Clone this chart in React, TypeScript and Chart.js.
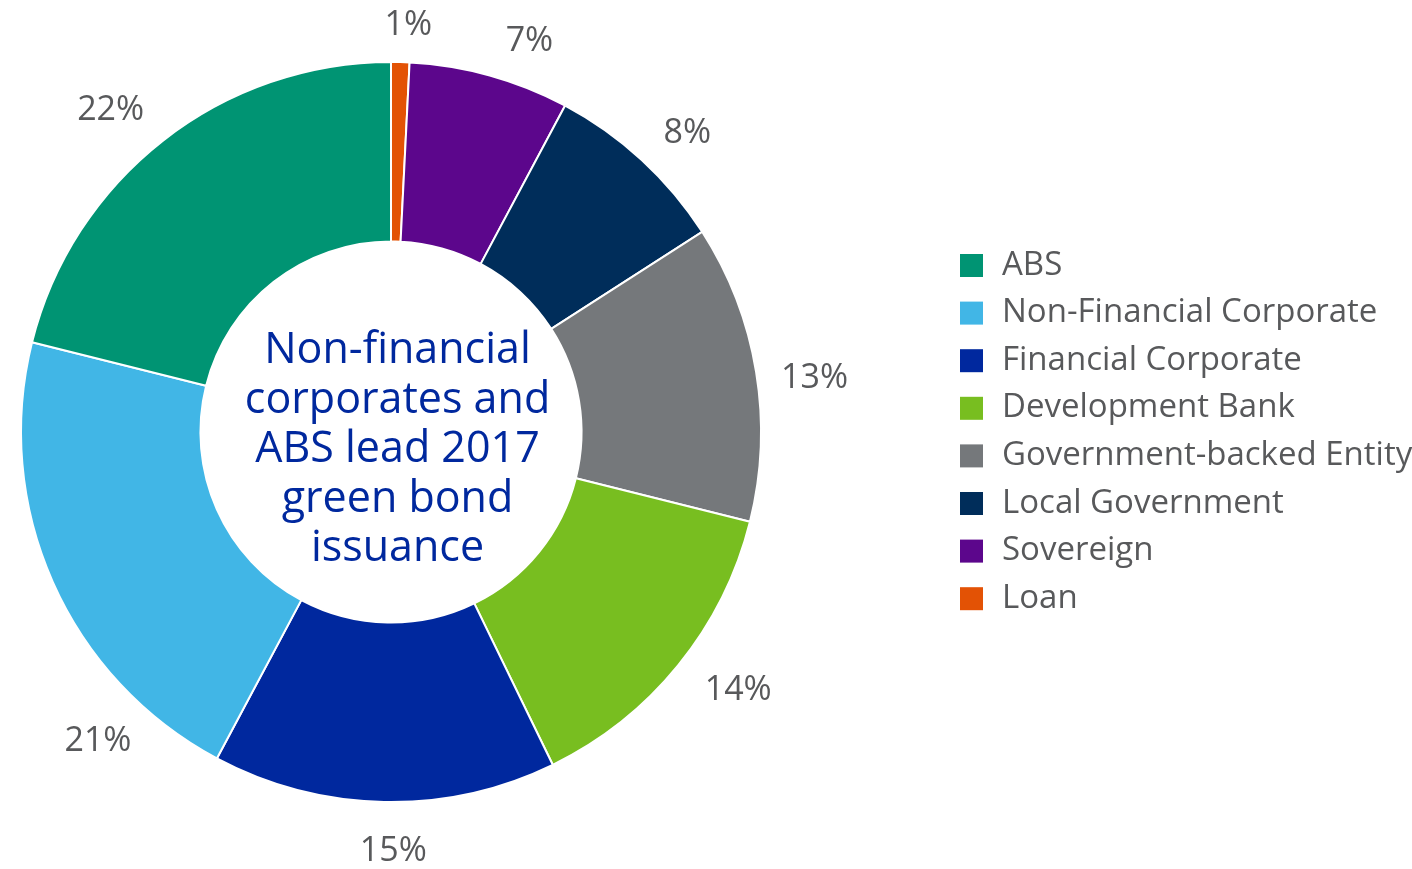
import React, { useEffect, useRef } from "react";
import { Chart, registerables } from "chart.js";

Chart.register(...registerables);

const categories = [
  "Loan",
  "Sovereign",
  "Local Government",
  "Government-backed Entity",
  "Development Bank",
  "Financial Corporate",
  "Non-Financial Corporate",
  "ABS",
];
// shares (percent)
const shares = [0.8, 7.0, 8.1, 13.0, 13.9, 15.0, 21.1, 21.1];
const percentLabels = ["1%", "7%", "8%", "13%", "14%", "15%", "21%", "22%"];
// small angular nudges (degrees) of the printed labels away from slice mid-angles
const labelAngleNudge = [1, 4, 2, 2, -2.5, -1.4, -22.5, -3];
// extra radial distance (px) of the printed labels
const labelRadialNudge = [1, 2, 3, 0, 5, 12, 0, 3];
const sliceColors = [
  "#e35205",
  "#5c068c",
  "#002d5a",
  "#75787b",
  "#78be20",
  "#00289e",
  "#41b6e6",
  "#009473",
];
const legendOrder = [
  "ABS",
  "Non-Financial Corporate",
  "Financial Corporate",
  "Development Bank",
  "Government-backed Entity",
  "Local Government",
  "Sovereign",
  "Loan",
];
const centerLines = [
  "Non-financial",
  "corporates and",
  "ABS lead 2017",
  "green bond",
  "issuance",
];

const FONT = "'Open Sans', 'Noto Sans', sans-serif";
const TEXT_GREY = "#58595b";

const overlayPlugin = {
  id: "overlay",
  afterDatasetsDraw(chart: any) {
    const ctx = chart.ctx;
    const meta = chart.getDatasetMeta(0);
    ctx.save();
    // percentage labels
    ctx.font = `34px ${FONT}`;
    ctx.fillStyle = TEXT_GREY;
    ctx.textAlign = "center";
    ctx.textBaseline = "middle";
    meta.data.forEach((arc: any, i: number) => {
      const p = arc.getProps(["x", "y", "startAngle", "endAngle", "outerRadius"], true);
      const mid = (p.startAngle + p.endAngle) / 2 + (labelAngleNudge[i] * Math.PI) / 180;
      const halfW = ctx.measureText(percentLabels[i]).width / 2;
      const halfH = 14;
      const r =
        p.outerRadius + 22 + labelRadialNudge[i] +
        Math.abs(Math.sin(mid)) * halfH + Math.abs(Math.cos(mid)) * halfW;
      ctx.fillText(percentLabels[i], p.x + Math.cos(mid) * r, p.y + Math.sin(mid) * r + 1);
    });
    // center text
    const first = meta.data[0];
    const cx = first.x + 6.5;
    const cy = first.y;
    ctx.font = `43px ${FONT}`;
    ctx.fillStyle = "#00289e";
    ctx.textBaseline = "alphabetic";
    const lh = 49.5;
    centerLines.forEach((line, i) => {
      ctx.fillText(line, cx, cy + 30 + (i - 2) * lh);
    });
    // legend
    ctx.textAlign = "left";
    ctx.font = `33px ${FONT}`;
    legendOrder.forEach((name, i) => {
      const idx = categories.indexOf(name);
      const step = 47.6;
      ctx.fillStyle = sliceColors[idx];
      ctx.fillRect(960, 254 + i * step, 23, 23);
      ctx.fillStyle = TEXT_GREY;
      ctx.fillText(name, 1002, 274.5 + i * step);
    });
    ctx.restore();
  },
};

export default function App() {
  const ref = useRef<HTMLCanvasElement | null>(null);
  useEffect(() => {
    if (!ref.current) return;
    const chart = new Chart(ref.current, {
      type: "doughnut",
      data: {
        labels: categories,
        datasets: [
          {
            data: shares,
            backgroundColor: sliceColors,
            borderColor: "#ffffff",
            borderWidth: 2,
            hoverOffset: 0,
          },
        ],
      },
      options: {
        responsive: false,
        animation: false,
        cutout: "51.5%",
        layout: { padding: { left: 20, right: 650, top: 61, bottom: 66 } },
        plugins: {
          legend: { display: false },
          tooltip: { enabled: false },
          title: { display: false },
        },
      },
      plugins: [overlayPlugin],
    });
    return () => chart.destroy();
  }, []);
  return (
    <div style={{ position: "fixed", left: 0, top: 0, width: 1412, height: 869, background: "#fff" }}>
      <canvas ref={ref} width={1412} height={869} style={{ width: 1412, height: 869 }} />
    </div>
  );
}
